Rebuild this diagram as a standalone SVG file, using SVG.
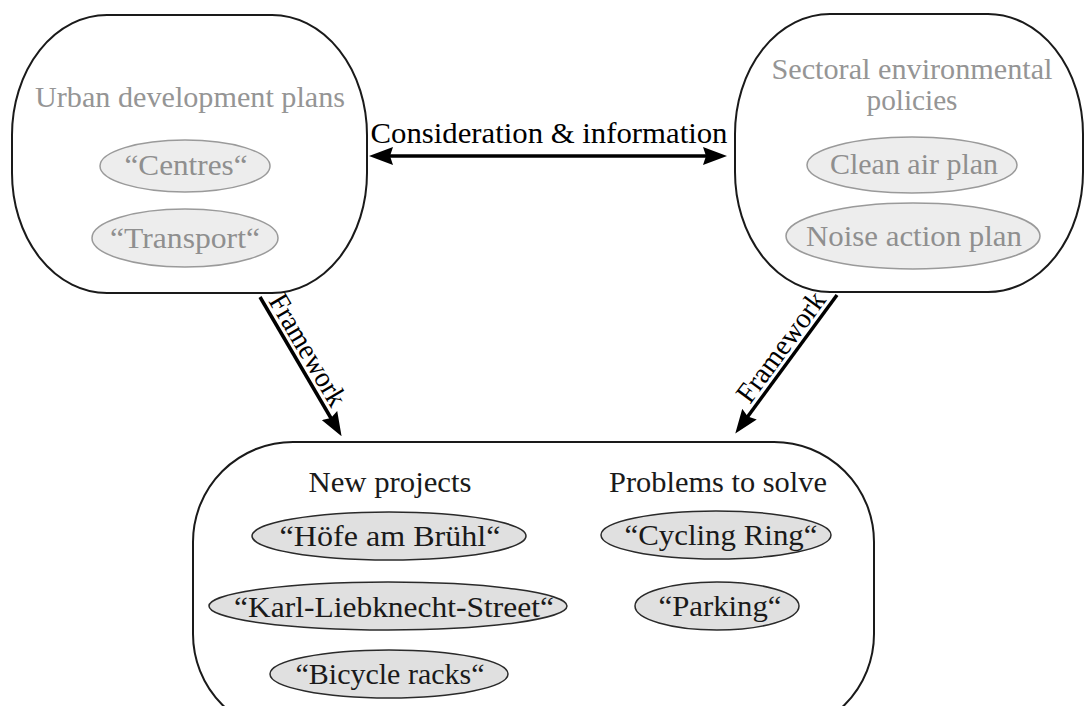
<svg xmlns="http://www.w3.org/2000/svg" width="1086" height="706" viewBox="0 0 1086 706">
  <style>
    text { font-family: "Liberation Serif", "Times New Roman", serif; text-anchor: middle; }
    .box { fill: #ffffff; stroke: #1a1a1a; stroke-width: 2; }
    .soft-title { font-size: 30px; fill: #959595; }
    .soft-pill { fill: #ededed; stroke: #9a9a9a; stroke-width: 1.5; }
    .soft-label { font-size: 29px; fill: #8f8f8f; }
    .title { font-size: 30px; fill: #1a1a1a; }
    .pill { fill: #e0e0e0; stroke: #2a2a2a; stroke-width: 1.5; }
    .label { font-size: 29px; fill: #1a1a1a; }
    .link { stroke: #000000; stroke-width: 3.5; fill: none; }
    .link-label { font-size: 29px; fill: #000000; }
  </style>
  <defs>
    <marker id="head" viewBox="0 0 24 18" markerWidth="24" markerHeight="18" refX="11" refY="9" orient="auto-start-reverse" markerUnits="userSpaceOnUse">
      <path d="M0,0 L24,9 L0,18 L3,9 z" fill="#000000"/>
    </marker>
  </defs>

  <rect width="1086" height="706" fill="#ffffff"/>

  <!-- Urban development plans -->
  <g id="urban-plans">
    <rect class="box" x="12" y="15" width="355" height="278" rx="95" ry="120"/>
    <text class="soft-title" x="190" y="107" textLength="310" lengthAdjust="spacingAndGlyphs">Urban development plans</text>
    <ellipse class="soft-pill" cx="185" cy="166" rx="85" ry="26"/>
    <text class="soft-label" x="186" y="175" textLength="123" lengthAdjust="spacingAndGlyphs">“Centres“</text>
    <ellipse class="soft-pill" cx="185" cy="238" rx="93" ry="29"/>
    <text class="soft-label" x="185" y="248" textLength="150" lengthAdjust="spacingAndGlyphs">“Transport“</text>
  </g>

  <!-- Sectoral environmental policies -->
  <g id="sectoral-policies">
    <rect class="box" x="735" y="14" width="348" height="278" rx="95" ry="120"/>
    <text class="soft-title" x="912" y="79" textLength="281" lengthAdjust="spacingAndGlyphs">Sectoral environmental</text>
    <text class="soft-title" x="912" y="110" textLength="91" lengthAdjust="spacingAndGlyphs">policies</text>
    <ellipse class="soft-pill" cx="912" cy="165" rx="105" ry="28"/>
    <text class="soft-label" x="914" y="174" textLength="168" lengthAdjust="spacingAndGlyphs">Clean air plan</text>
    <ellipse class="soft-pill" cx="913" cy="236" rx="127" ry="33"/>
    <text class="soft-label" x="914" y="246" textLength="216" lengthAdjust="spacingAndGlyphs">Noise action plan</text>
  </g>

  <!-- Projects and problems -->
  <g id="projects">
    <rect class="box" x="193" y="442" width="681" height="292" rx="100" ry="100"/>
    <text class="title" x="390" y="492" textLength="163" lengthAdjust="spacingAndGlyphs">New projects</text>
    <text class="title" x="718" y="492" textLength="218" lengthAdjust="spacingAndGlyphs">Problems to solve</text>
    <ellipse class="pill" cx="389" cy="536" rx="137" ry="24"/>
    <text class="label" x="390" y="546" textLength="221" lengthAdjust="spacingAndGlyphs">“Höfe am Brühl“</text>
    <ellipse class="pill" cx="388" cy="606" rx="179" ry="24"/>
    <text class="label" x="394" y="617" textLength="320" lengthAdjust="spacingAndGlyphs">“Karl-Liebknecht-Street“</text>
    <ellipse class="pill" cx="389" cy="674" rx="119" ry="24"/>
    <text class="label" x="390" y="684" textLength="189" lengthAdjust="spacingAndGlyphs">“Bicycle racks“</text>
    <ellipse class="pill" cx="716" cy="535" rx="115" ry="24"/>
    <text class="label" x="721" y="545" textLength="193" lengthAdjust="spacingAndGlyphs">“Cycling Ring“</text>
    <ellipse class="pill" cx="717" cy="606" rx="82" ry="24"/>
    <text class="label" x="720" y="616" textLength="123" lengthAdjust="spacingAndGlyphs">“Parking“</text>
  </g>

  <!-- Connectors -->
  <g id="connectors">
    <line class="link" x1="382" y1="156" x2="714" y2="156" marker-start="url(#head)" marker-end="url(#head)"/>
    <text class="link-label" x="549" y="143" textLength="357" lengthAdjust="spacingAndGlyphs">Consideration &amp; information</text>

    <line class="link" x1="260" y1="297" x2="335" y2="425" marker-end="url(#head)"/>
    <text class="link-label" transform="translate(268,301) rotate(59.5)" x="0" y="0" style="text-anchor:start" textLength="125" lengthAdjust="spacingAndGlyphs">Framework</text>

    <line class="link" x1="837" y1="295" x2="743" y2="423" marker-end="url(#head)"/>
    <text class="link-label" transform="translate(750,405) rotate(-53.7)" x="0" y="0" style="text-anchor:start" textLength="130" lengthAdjust="spacingAndGlyphs">Framework</text>
  </g>
</svg>
